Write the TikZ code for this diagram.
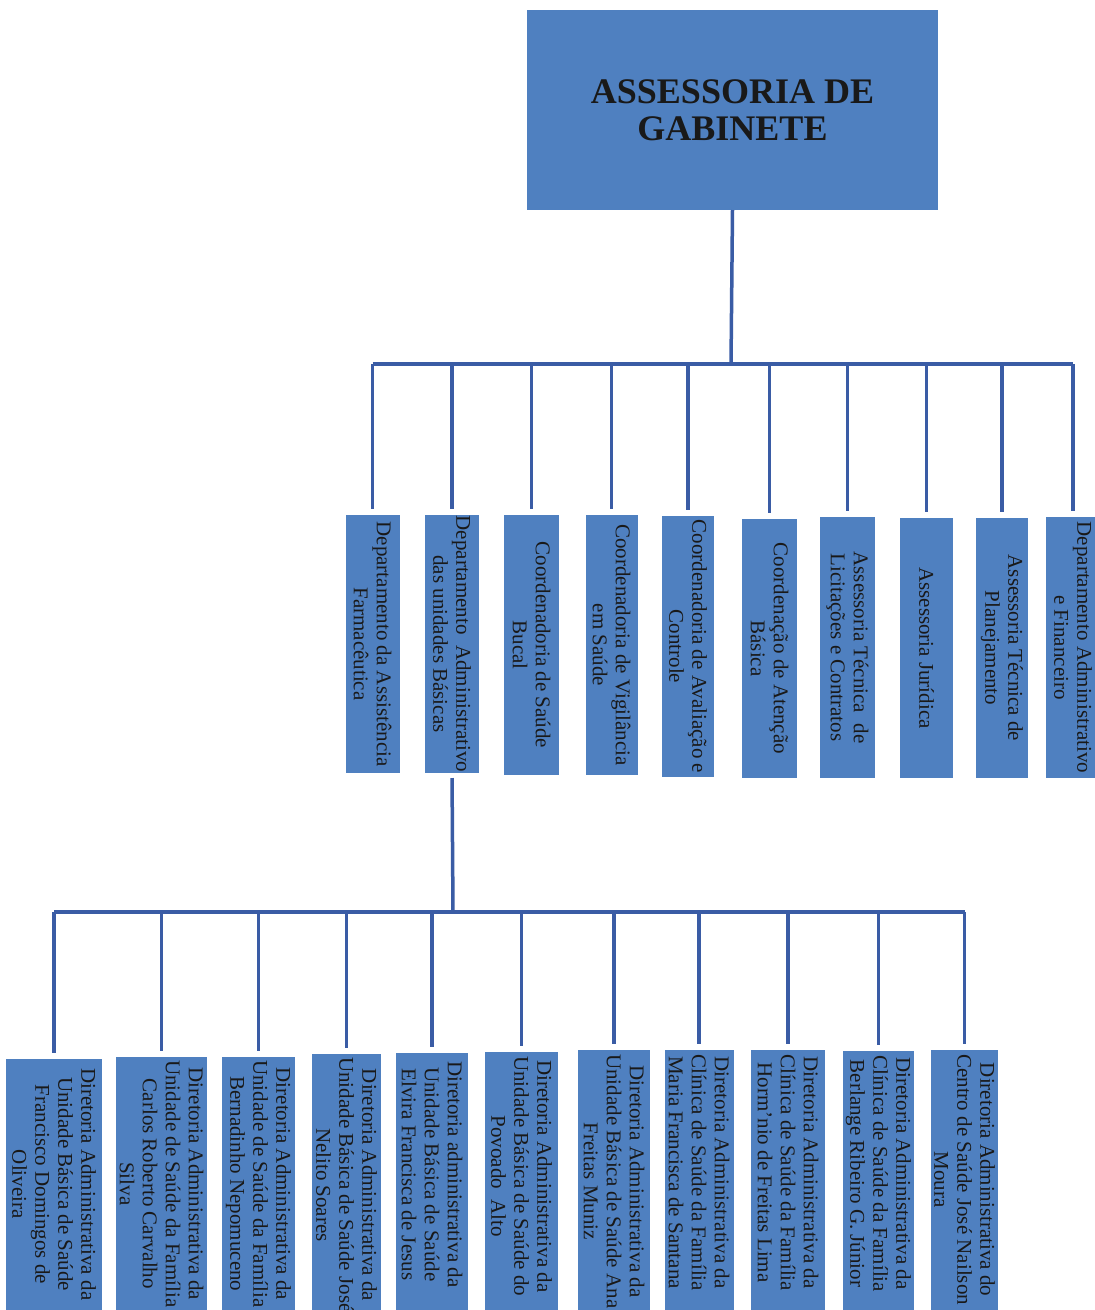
\documentclass[tikz,border=0pt]{standalone}
\usepackage{fontspec}
\setmainfont{Liberation Serif}
\definecolor{boxblue}{RGB}{79,128,192}
\definecolor{lineblue}{RGB}{58,92,165}
\begin{document}
\begin{tikzpicture}[x=1pt,y=-1pt,
  box/.style={fill=boxblue, draw=none, inner sep=0pt, outer sep=0pt},
  conn/.style={draw=lineblue, line width=3.5pt},
  vlbl/.style={rotate=-90, align=center, inner sep=0pt, font=\fontsize{21}{23}\selectfont, text=black!90},
  toplbl/.style={align=center, font=\fontsize{36}{37}\selectfont\bfseries, text=black!90}]
\useasboundingbox (0,0) rectangle (1095,1310);
\clip (0,0) rectangle (1095,1310);
\fill[white] (0,0) rectangle (1095,1310);

% top box
\node[box, minimum width=411pt, minimum height=200pt, toplbl] (top) at (732.5,110) {ASSESSORIA DE\\GABINETE};

% middle row boxes
\node[box, minimum width=54pt, minimum height=258pt] (m1) at (372.5,644) {};
\node[box, minimum width=54pt, minimum height=258pt] (m2) at (452,644) {};
\node[box, minimum width=55pt, minimum height=260pt] (m3) at (531.5,645) {};
\node[box, minimum width=52pt, minimum height=260pt] (m4) at (611.5,645) {};
\node[box, minimum width=52pt, minimum height=261pt] (m5) at (688,646.5) {};
\node[box, minimum width=55pt, minimum height=259pt] (m6) at (769.5,648.5) {};
\node[box, minimum width=55pt, minimum height=261pt] (m7) at (847.5,647.5) {};
\node[box, minimum width=53pt, minimum height=260pt] (m8) at (926.5,648) {};
\node[box, minimum width=52pt, minimum height=260pt] (m9) at (1002,648) {};
\node[box, minimum width=54pt, minimum height=261pt] (m10) at (1073,647.5) {};

\node[vlbl] (t1) at (m1.center) {Departamento da Assistência\\Farmacêutica};
\node[vlbl] (t2) at (m2.center) {Departamento\ \ Administrativo\\das unidades Básicas};
\node[vlbl] (t3) at (m3.center) {Coordenadoria de Saúde\\Bucal};
\node[vlbl] (t4) at (m4.center) {Coordenadoria de Vigilância\\em Saúde};
\node[vlbl] (t5) at (m5.center) {Coordenadoria de Avaliação e\\Controle};
\node[vlbl] (t6) at (m6.center) {Coordenação de Atenção\\Básica};
\node[vlbl] (t7) at (m7.center) {Assessoria Técnica\ \ de\\Licitações e Contratos};
\node[vlbl] (t8) at (m8.center) {Assessoria Jurídica};
\node[vlbl] (t9) at (m9.center) {Assessoria Técnica de\\Planejamento};
\node[vlbl] (t10) at (m10.center) {Departamento Administrativo\\e Financeiro};

% bottom row boxes
\node[box, anchor=north, minimum width=96pt, minimum height=270pt] (b1) at (54,1059) {};
\node[box, anchor=north, minimum width=91pt, minimum height=270pt] (b2) at (161.5,1057) {};
\node[box, anchor=north, minimum width=73pt, minimum height=270pt] (b3) at (258.5,1057) {};
\node[box, anchor=north, minimum width=69pt, minimum height=270pt] (b4) at (346.5,1054) {};
\node[box, anchor=north, minimum width=72pt, minimum height=270pt] (b5) at (432,1053) {};
\node[box, anchor=north, minimum width=73pt, minimum height=270pt] (b6) at (521.5,1052) {};
\node[box, anchor=north, minimum width=72pt, minimum height=270pt] (b7) at (614,1050) {};
\node[box, anchor=north, minimum width=69pt, minimum height=270pt] (b8) at (699,1050) {};
\node[box, anchor=north, minimum width=74pt, minimum height=270pt] (b9) at (788,1050) {};
\node[box, anchor=north, minimum width=71pt, minimum height=270pt] (b10) at (878.5,1051) {};
\node[box, anchor=north, minimum width=67pt, minimum height=270pt] (b11) at (964.5,1050) {};

\node[vlbl, anchor=west] (u1) at ([yshift=-9pt]b1.north) {Diretoria Administrativa da\\Unidade Básica de Saúde\\Francisco Domingos de\\Oliveira};
\node[vlbl, anchor=west] (u2) at ([yshift=-3pt]b2.north) {Diretoria Administrativa da\\Unidade de Saúde da Família\\Carlos Roberto Carvalho\\Silva};
\node[vlbl, anchor=west] (u3) at ([yshift=-3pt]b3.north) {Diretoria Administrativa da\\Unidade de Saúde da Família\\Bernadinho Nepomuceno};
\node[vlbl, anchor=west] (u4) at ([yshift=-3pt]b4.north) {Diretoria Administrativa da\\Unidade Básica de Saúde José\\Nelito Soares};
\node[vlbl, anchor=west] (u5) at ([yshift=-8pt]b5.north) {Diretoria administrativa da\\Unidade Básica de Saúde\\Elvira Francisca de Jesus};
\node[vlbl, anchor=west] (u6) at ([yshift=-4pt]b6.north) {Diretoria Administrativa da\\Unidade Básica de Saúde do\\Povoado\ \ Alto};
\node[vlbl, anchor=west] (u7) at ([yshift=-4pt]b7.north) {Diretoria Administrativa da\\Unidade Básica de Saúde Ana\\Freitas Muniz};
\node[vlbl, anchor=west] (u8) at ([yshift=-4pt]b8.north) {Diretoria Administrativa da\\Clínica de Saúde da Família\\Maria Francisca de Santana};
\node[vlbl, anchor=west] (u9) at ([yshift=-4pt]b9.north) {Diretoria Administrativa da\\Clínica de Saúde da Família\\Horm’nio de Freitas Lima};
\node[vlbl, anchor=west] (u10) at ([yshift=-4pt]b10.north) {Diretoria Administrativa da\\Clínica de Saúde da Família\\Berlange Ribeiro G. Júnior};
\node[vlbl, anchor=west] (u11) at ([yshift=-4pt]b11.north) {Diretoria Administrativa do\\Centro de Saúde José Nailson\\Moura};

% junctions
\coordinate (j1) at (731,364);
\coordinate (j2) at (453,912);

% upper tree
\draw[conn] (top.south) -- (j1);
\draw[conn, line cap=square] (m1.north |- j1) -- (m10.north |- j1);
\foreach \n in {m1,m2,m3,m4,m5,m6,m7,m8,m9,m10}
  \draw[conn, shorten >=6pt] (\n.north |- j1) -- (\n.north);

% lower tree
\draw[conn, shorten <=5pt] (m2.south) -- (j2);
\draw[conn, line cap=square] (b1.north |- j2) -- (b11.north |- j2);
\foreach \n in {b1,b2,b3,b4,b5,b6,b7,b8,b9,b10,b11}
  \draw[conn, shorten >=6pt] (\n.north |- j2) -- (\n.north);
\end{tikzpicture}
\end{document}
